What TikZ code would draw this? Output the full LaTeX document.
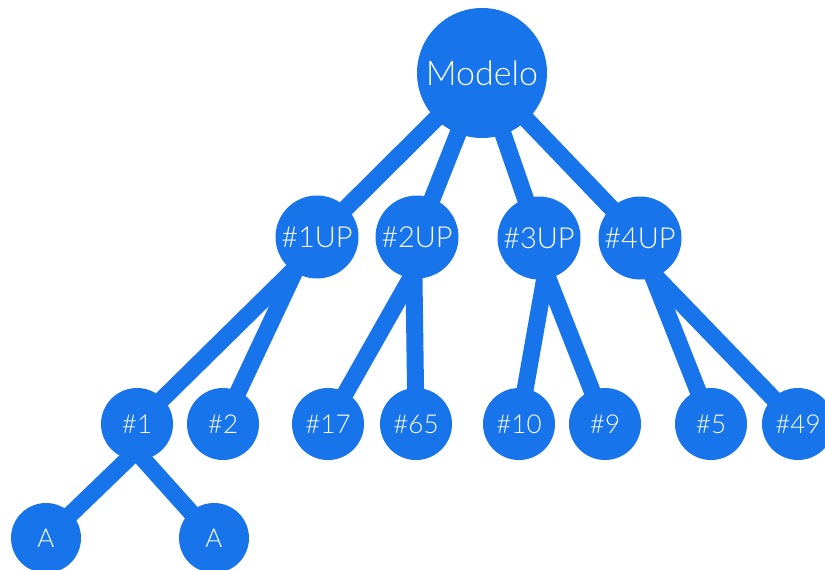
\documentclass[tikz,border=0pt]{standalone}
\usepackage{fontspec}
\IfFontExistsTF{Lato Light}{\setmainfont{Lato Light}}{\setmainfont{Liberation Sans}}
\usetikzlibrary{calc,backgrounds}
\definecolor{mmblue}{HTML}{1774EB}
\tikzset{
  x=1pt, y=-1pt,
  bubble/.style={circle, fill=mmblue, text=white, inner sep=0pt},
  rootbub/.style={bubble, minimum size=130pt, font=\fontsize{34}{36}\selectfont},
  upbub/.style={bubble, minimum size=83pt, font=\fontsize{29}{30}\selectfont},
  leafbub/.style={bubble, minimum size=72pt, font=\fontsize{26}{28}\selectfont},
  branch/.style={draw=mmblue, line width=17pt},
}
\begin{document}
\begin{tikzpicture}
\useasboundingbox (0,0) rectangle (825,570);

% root
\node[rootbub] (m) at (482,73) {Modelo};

% second level
\node[upbub] (u1) at (317,237) {\#1UP};
\node[upbub] (u2) at (417,237) {\#2UP};
\node[upbub] (u3) at (539,238) {\#3UP};
\node[upbub] (u4) at (640,238) {\#4UP};

% third level
\node[leafbub] (l1)  at (137,424) {\#1};
\node[leafbub] (l2)  at (223,424) {\#2};
\node[leafbub] (l17) at (328,424) {\#17};
\node[leafbub] (l65) at (416,424) {\#65};
\node[leafbub] (l10) at (519,424) {\#10};
\node[leafbub] (l9)  at (605,424) {\#9};
\node[leafbub] (l5)  at (711,424) {\#5};
\node[leafbub] (l49) at (798,424) {\#49};

% fourth level
\node[leafbub, minimum size=70pt] (a1) at (46,538) {A};
\node[leafbub, minimum size=70pt] (a2) at (214,538) {A};

% branches, drawn underneath the bubbles
\begin{scope}[on background layer]
  \foreach \c in {u1,u2,u3,u4}
    \draw[branch] (m.center) -- (\c.center);
  \coordinate (o1) at ($(u1)!0.85!(u1.236)$);
  \coordinate (o2) at ($(u2)!0.85!(u2.265)$);
  \coordinate (o3) at ($(u3)!0.85!(u3.281)$);
  \coordinate (o4) at ($(u4)!0.85!(u4.288)$);
  \coordinate (o5) at ($(l1)!0.75!(l1.268)$);
  \draw[branch] (o1) -- (l1.center);
  \draw[branch] (o1) -- (l2.center);
  \draw[branch] (o2) -- (l17.center);
  \draw[branch] (o2) -- (l65.center);
  \draw[branch] (o3) -- (l10.center);
  \draw[branch] (o3) -- (l9.center);
  \draw[branch] (o4) -- (l5.center);
  \draw[branch] (o4) -- (l49.center);
  \draw[branch] (o5) -- (a1.center);
  \draw[branch] (o5) -- (a2.center);
\end{scope}
\end{tikzpicture}
\end{document}
